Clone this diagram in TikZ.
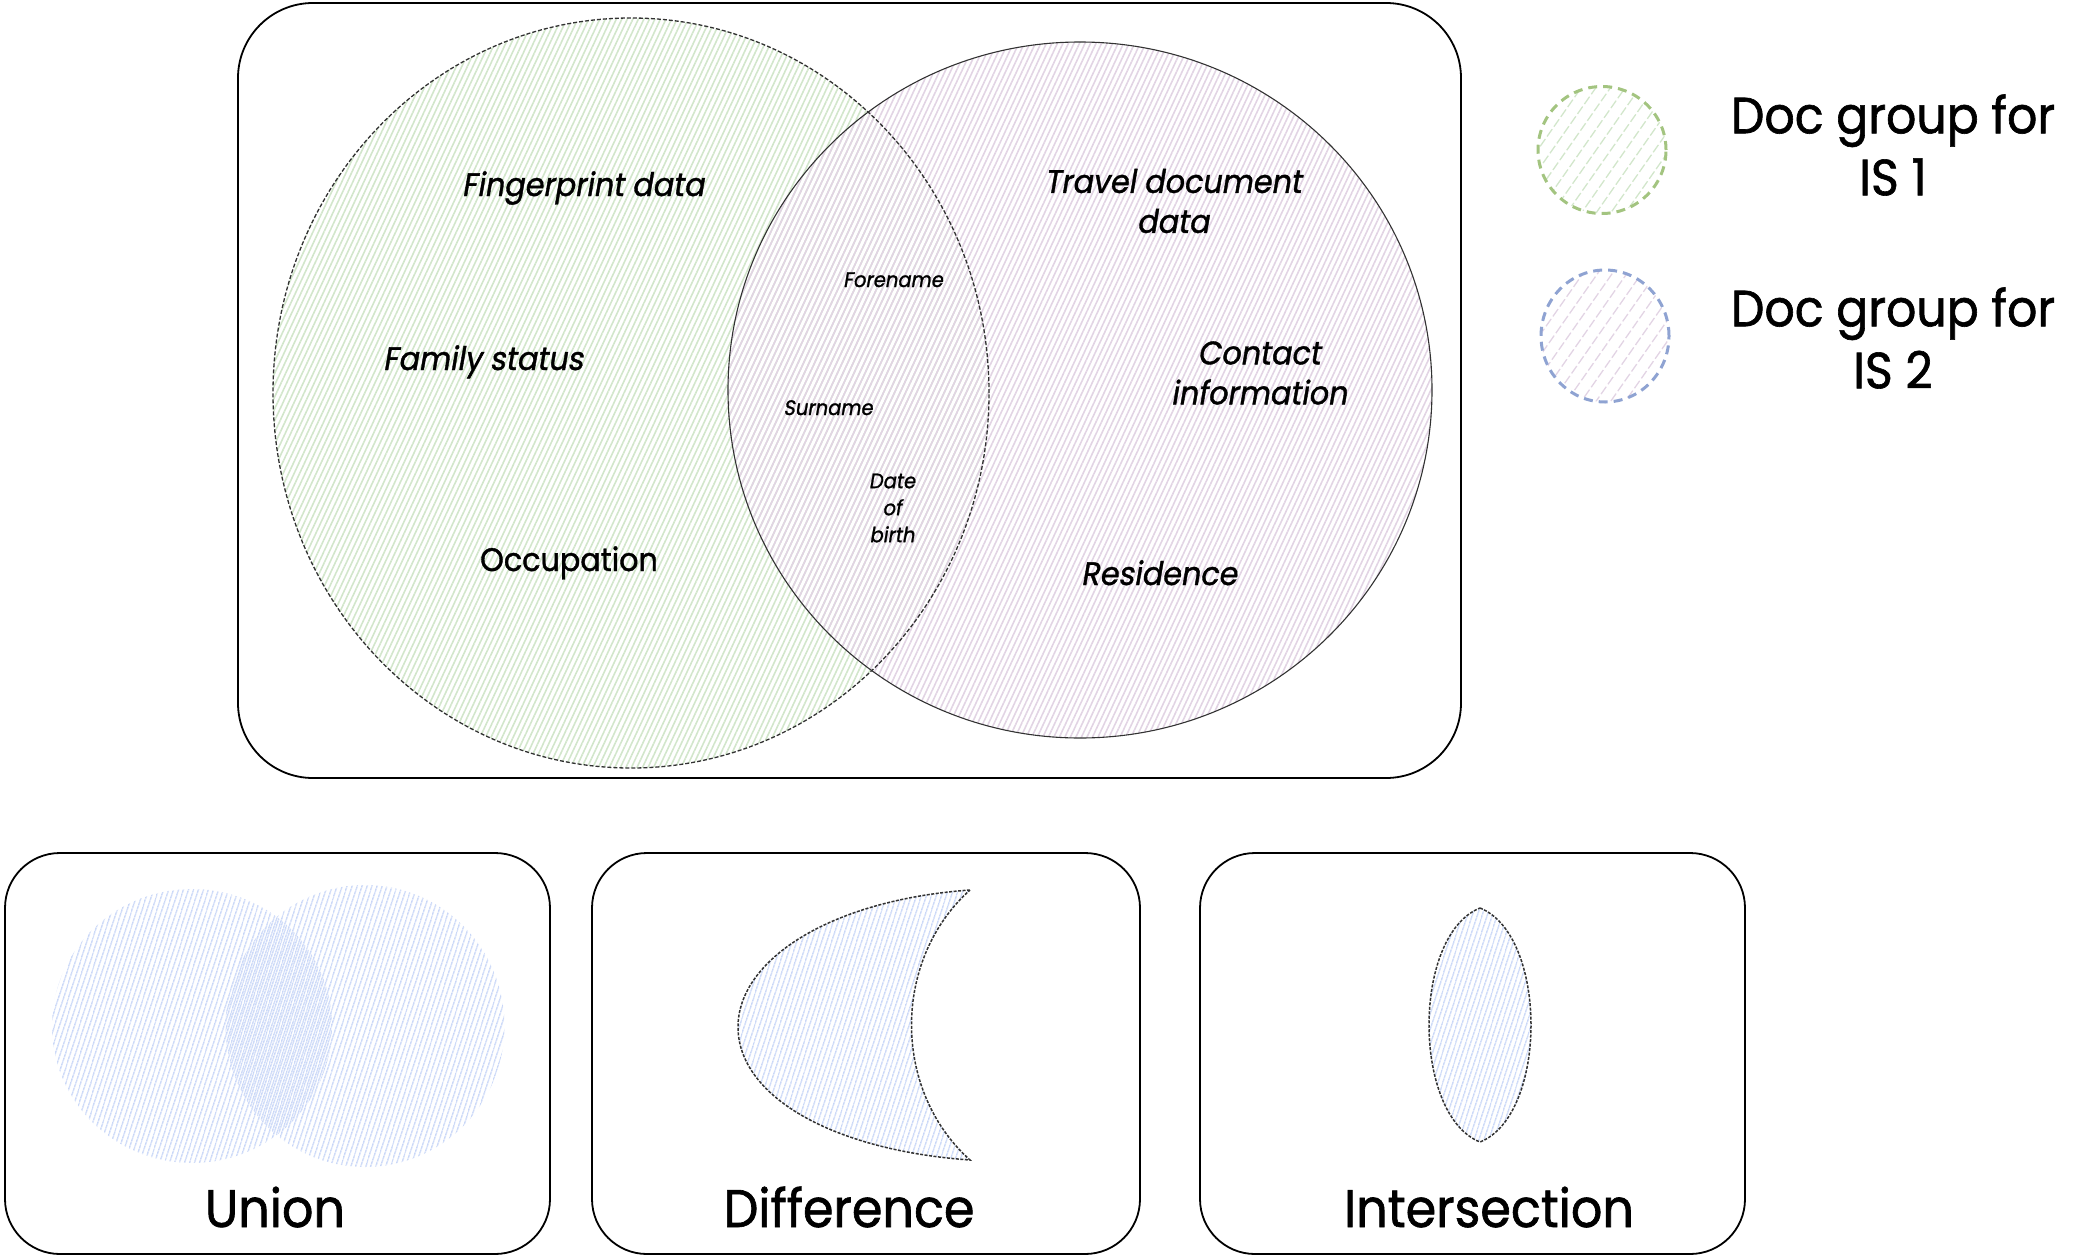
\documentclass[tikz,border=0pt]{standalone}
\usepackage{fontspec}
\setmainfont{Poppins}[FakeStretch=0.93,FakeBold=1.2]
\newfontfamily\itf{Poppins}[FakeStretch=0.93,FakeSlant=0.17,FakeBold=1.2]
\usetikzlibrary{patterns.meta,shapes.geometric}
\definecolor{hgreen}{RGB}{210,230,203}
\definecolor{hmauve}{RGB}{226,212,228}
\definecolor{hblue}{RGB}{200,214,247}
\definecolor{lgreen}{RGB}{163,196,128}
\definecolor{lblue}{RGB}{143,163,210}
\definecolor{outl}{RGB}{50,50,50}
\tikzset{
  frame/.style={draw=black, line width=1.8pt, rounded corners=#1, inner sep=0pt, outer sep=0pt},
  greenhatch/.style={pattern={Lines[angle=65,distance=5pt,line width=1.6pt]}, pattern color=hgreen},
  mauvehatch/.style={pattern={Lines[angle=65,distance=5pt,line width=1.6pt]}, pattern color=hmauve},
  bluehatch/.style={pattern={Lines[angle=72,distance=4pt,line width=1.5pt]}, pattern color=hblue},
  shapeline/.style={draw=outl, line width=1.5pt, dash pattern=on 3pt off 1.5pt},
  bigtxt/.style={font=\itf\fontsize{32.5}{40}\selectfont, align=center, inner sep=0pt},
  bigup/.style={font=\fontsize{32.5}{40}\selectfont, align=center, inner sep=0pt},
  smalltxt/.style={font=\itf\fontsize{21}{27}\selectfont, align=center, inner sep=0pt},
  legtxt/.style={font=\fontsize{51}{62}\selectfont, align=center, inner sep=0pt},
  optxt/.style={font=\fontsize{53}{60}\selectfont, inner sep=0pt, anchor=base},
}
\begin{document}
\begin{tikzpicture}[x=1pt,y=-1pt]
\useasboundingbox (0,0) rectangle (2074,1258);
% main frame
\node[frame=75pt, minimum width=1223pt, minimum height=775pt] (main) at (849.5,390.5) {};
% sets
\node[ellipse, greenhatch, minimum width=716pt, minimum height=750pt, inner sep=0pt] (is1) at (631,393) {};
\node[ellipse, mauvehatch, minimum width=704pt, minimum height=696pt, inner sep=0pt] (is2) at (1080,390) {};
\node[ellipse, draw=outl, line width=1.3pt, dash pattern=on 4pt off 2pt, minimum width=716pt, minimum height=750pt, inner sep=0pt] (is1o) at (631,393) {};
\node[ellipse, draw=outl, line width=1.1pt, minimum width=704pt, minimum height=696pt, inner sep=0pt] (is2o) at (1080,390) {};
% labels
\node[bigtxt, anchor=base] (fp) at (583,196) {Fingerprint data};
\node[bigtxt, anchor=base] (fs) at (483,370) {Family status};
\node[bigup, anchor=base] (oc) at (569,571) {Occupation};
\node[bigtxt] (td) at (1173,201) {Travel document\\data};
\node[bigtxt] (ci) at (1259,373) {Contact\\information};
\node[bigtxt, anchor=base] (rs) at (1159,585) {Residence};
\node[smalltxt, anchor=base] (fn) at (893,287) {Forename};
\node[smalltxt, anchor=base] (sn) at (828,415) {Surname};
\node[smalltxt] (db) at (892,508) {Date\\of\\birth};
% legend
\node[ellipse, draw=lgreen, line width=3pt, dash pattern=on 9pt off 6pt, minimum width=128pt, minimum height=127pt, inner sep=0pt,
      pattern={Lines[angle=55,distance=12pt,line width=1.3pt]}, pattern color=hgreen] (leg1) at (1602,150) {};
\node[ellipse, draw=lblue, line width=3pt, dash pattern=on 9pt off 6pt, minimum width=128pt, minimum height=132pt, inner sep=0pt,
      pattern={Lines[angle=55,distance=12pt,line width=1.3pt]}, pattern color=hmauve] (leg2) at (1605,336) {};
\node[legtxt] (lt1) at (1893,145) {Doc group for\\IS 1};
\node[legtxt] (lt2) at (1893,338) {Doc group for\\IS 2};
% operation boxes
\node[frame=55pt, minimum width=545pt, minimum height=401pt] (bu) at (277.5,1053.5) {};
\node[frame=55pt, minimum width=548pt, minimum height=401pt] (bd) at (866,1053.5) {};
\node[frame=55pt, minimum width=545pt, minimum height=401pt] (bi) at (1472.5,1053.5) {};
% union
\node[ellipse, bluehatch, minimum width=280pt, minimum height=274pt, inner sep=0pt] (u1) at (192,1026) {};
\node[ellipse, bluehatch, minimum width=279pt, minimum height=282pt, inner sep=0pt] (u2) at (365,1026) {};
% difference
\draw[bluehatch, shapeline]
  (970,890) .. controls (830,900) and (738,960) .. (738,1027)
  .. controls (738,1095) and (830,1150) .. (970,1160)
  .. controls (892,1090) and (892,960) .. (970,890) -- cycle;
% intersection
\draw[bluehatch, shapeline]
  (1480,908) .. controls (1548,935) and (1548,1115) .. (1480,1142)
  .. controls (1412,1115) and (1412,935) .. (1480,908) -- cycle;
\node[optxt] (lu) at (275,1227) {Union};
\node[optxt] (ld) at (849,1227) {Difference};
\node[optxt] (li) at (1489,1227) {Intersection};
\end{tikzpicture}
\end{document}
